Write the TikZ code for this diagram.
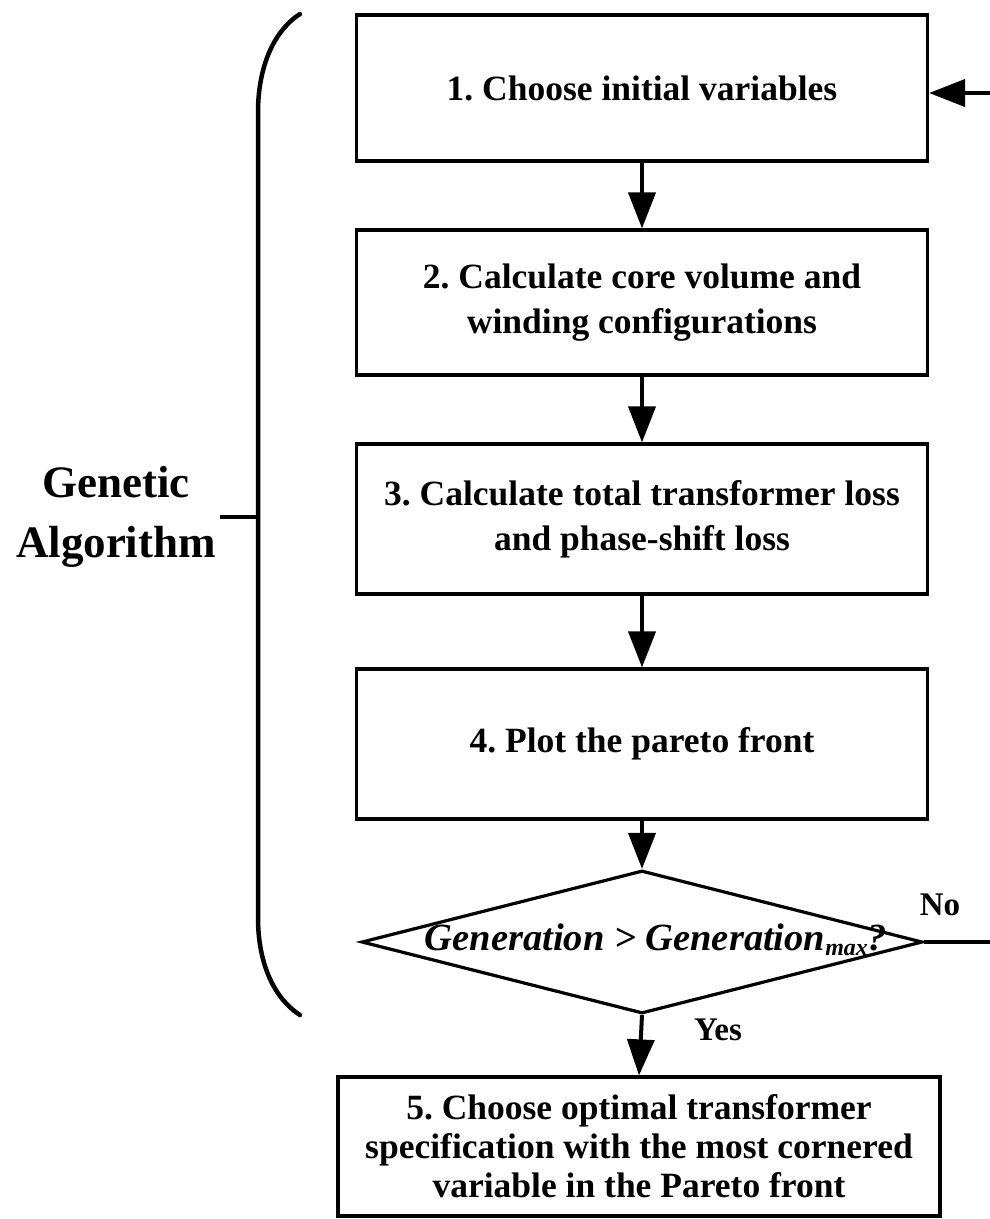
\documentclass[tikz,border=0pt]{standalone}
\usepackage{fontspec}
\setmainfont{Liberation Serif}
\usetikzlibrary{arrows.meta,shapes.geometric}
\tikzset{
  stepbox/.style={draw, line width=3.2pt, rectangle, minimum width=571pt, align=center, inner sep=0pt,
    font=\fontsize{35.5}{45}\selectfont\bfseries},
  flow/.style={line width=4pt, -{Triangle[length=36pt,width=27pt]}},
  lbl/.style={inner sep=0pt, font=\fontsize{33}{36}\selectfont\bfseries},
}
\begin{document}
\frenchspacing
\begin{tikzpicture}[x=1pt,y=-1pt]
\useasboundingbox (0,0) rectangle (990,1219);
\node[stepbox, minimum height=146pt] (b1) at (642,88) {1. Choose initial variables};
\node[stepbox, minimum height=145pt] (b2) at (642,302.5) {2. Calculate core volume and\\winding configurations};
\node[stepbox, minimum height=150pt] (b3) at (642,519) {3. Calculate total transformer loss\\and phase-shift loss};
\node[stepbox, minimum height=150pt] (b4) at (642,744) {4. Plot the pareto front};
\node[diamond, draw, line width=3.2pt, minimum width=561pt, minimum height=143pt, inner sep=0pt] (dec) at (642,942) {};
\node[inner sep=0pt, font=\fontsize{38.5}{40}\selectfont\bfseries\itshape] (dectext) at (656,940)
  {Generation > Generation\raisebox{-5pt}{\fontsize{24}{24}\selectfont max}?};
\node[stepbox, minimum width=602pt, minimum height=139pt, font=\fontsize{35.5}{39}\selectfont\bfseries] (b5) at (639,1146.5)
  {5. Choose optimal transformer\\specification with the most cornered\\variable in the Pareto front};
\draw[flow] (b1.south) -- (b2.north);
\draw[flow] (b2.south) -- (b3.north);
\draw[flow] (b3.south) -- (b4.north);
\draw[flow] (b4.south) -- (dec.north);
\draw[flow] (dec.south) -- (b5.north);
\coordinate (fbr) at (1004,942);
\coordinate (fbin) at ([yshift=-5pt]b1.east);
\draw[flow] (dec.east) -- (fbr) |- (fbin);
\node[lbl] (no) at (940,905) {No};
\node[lbl] (yes) at (718,1030) {Yes};
% brace
\draw[line width=4.5pt, line cap=round] (300,14) .. controls (272,32) and (258,70) .. (258,112)
  -- (258,918) .. controls (258,960) and (272,997) .. (300,1015);
\coordinate (tick) at (258,517);
\coordinate (tickend) at (220,517);
\draw[line width=3.5pt] (tick) -- (tickend);
\node[inner sep=0pt, align=center, font=\fontsize{45}{60}\selectfont\bfseries] (ga) at (116,517) {Genetic\\Algorithm};
\end{tikzpicture}
\end{document}
